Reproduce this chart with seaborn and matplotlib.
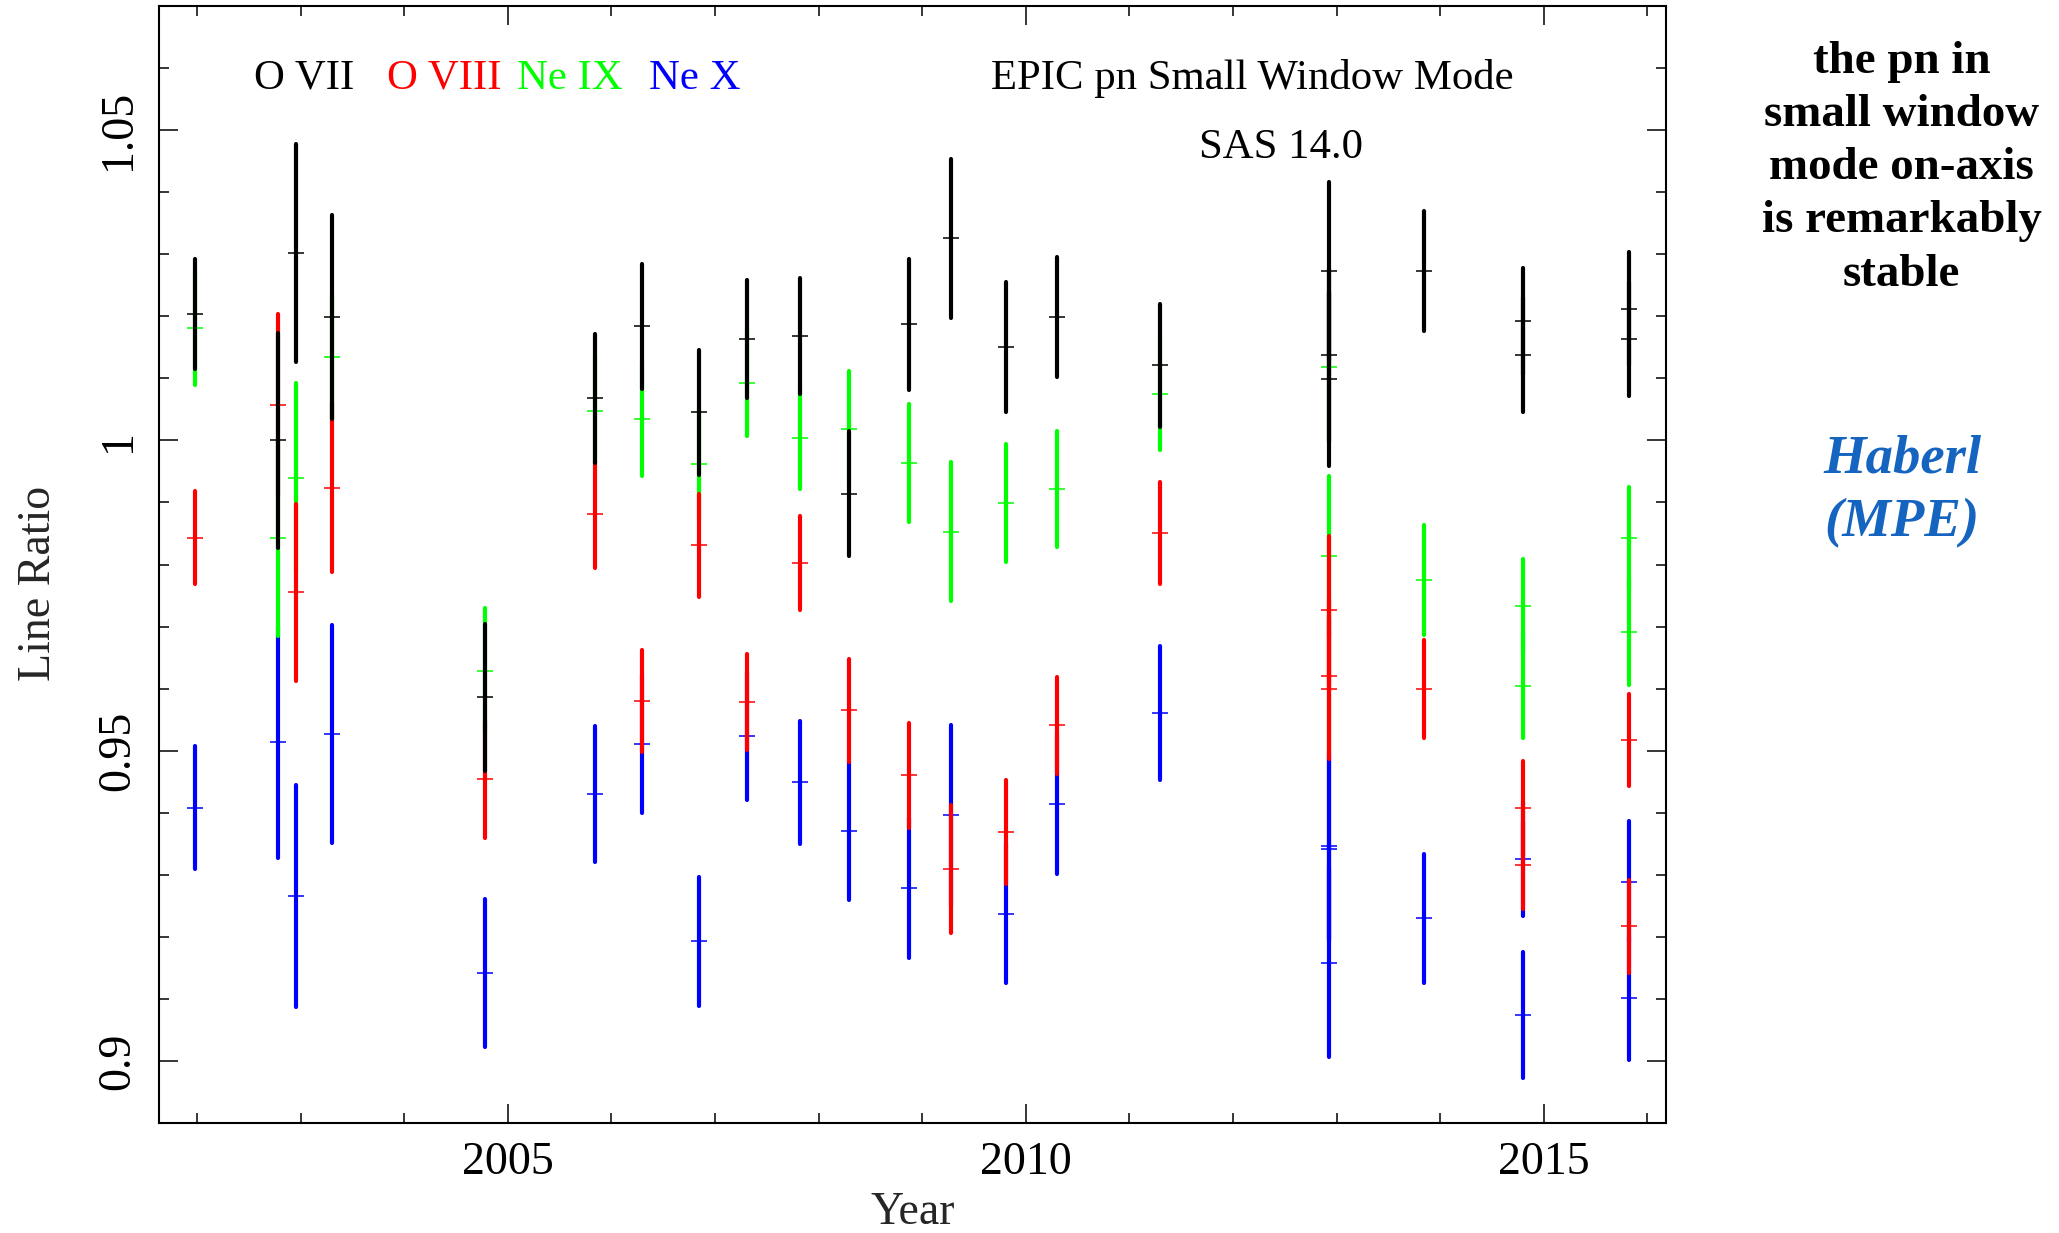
import matplotlib
matplotlib.use("Agg")
import matplotlib.pyplot as plt
import numpy as np
import pandas as pd
import seaborn as sns
from matplotlib.ticker import FixedLocator, MultipleLocator, FuncFormatter

# ---- line ratios (observed / model) per observation epoch ----
ovii_year = [2001.985, 2002.780, 2002.954, 2003.301, 2004.784, 2005.846, 2006.299,
             2006.847, 2007.313, 2007.819, 2008.297, 2008.871, 2009.279, 2009.807,
             2010.302, 2011.299, 2012.930, 2012.930, 2012.930, 2013.848,
             2014.800, 2014.800, 2015.823, 2015.823]
ovii_ratio = [1.0204, 1.0000, 1.0302, 1.0199, 0.9586, 1.0068, 1.0184,
              1.0045, 1.0163, 1.0168, 0.9914, 1.0187, 1.0326, 1.0150,
              1.0199, 1.0121, 1.0273, 1.0137, 1.0099, 1.0273,
              1.0192, 1.0138, 1.0212, 1.0164]
ovii_err = [0.0089, 0.0173, 0.0175, 0.0164, 0.0118, 0.0104, 0.0101,
            0.0100, 0.0095, 0.0093, 0.0101, 0.0105, 0.0128, 0.0105,
            0.0097, 0.0099, 0.0144, 0.0140, 0.0140, 0.0097,
            0.0086, 0.0093, 0.0091, 0.0092]

oviii_year = ovii_year
oviii_ratio = [0.9843, 1.0057, 0.9755, 0.9924, 0.9454, 0.9881, 0.9580,
               0.9831, 0.9578, 0.9802, 0.9565, 0.9460, 0.9309, 0.9369,
               0.9541, 0.9851, 0.9727, 0.9620, 0.9600, 0.9599,
               0.9407, 0.9315, 0.9517, 0.9217]
oviii_err = [0.0075, 0.0146, 0.0142, 0.0136, 0.0094, 0.0086, 0.0082,
             0.0083, 0.0077, 0.0076, 0.0083, 0.0085, 0.0103, 0.0084,
             0.0078, 0.0082, 0.0119, 0.0125, 0.0114, 0.0079,
             0.0077, 0.0070, 0.0074, 0.0075]

neix_year = [2001.985, 2002.780, 2002.954, 2003.301, 2004.784, 2005.846, 2006.299,
             2006.847, 2007.313, 2007.819, 2008.297, 2008.871, 2009.279, 2009.807,
             2010.302, 2011.299, 2012.930, 2012.930, 2013.848,
             2014.800, 2014.800, 2015.823, 2015.823]
neix_ratio = [1.0181, 0.9843, 0.9940, 1.0134, 0.9629, 1.0048, 1.0034,
              0.9962, 1.0093, 1.0004, 1.0019, 0.9964, 0.9853, 0.9899,
              0.9922, 1.0075, 1.0119, 0.9814, 0.9775,
              0.9733, 0.9605, 0.9843, 0.9692]
neix_err = [0.0092, 0.0158, 0.0152, 0.0100, 0.0101, 0.0090, 0.0092,
            0.0090, 0.0086, 0.0083, 0.0093, 0.0095, 0.0112, 0.0095,
            0.0093, 0.0090, 0.0120, 0.0129, 0.0088,
            0.0076, 0.0084, 0.0082, 0.0086]

nex_year = ovii_year
nex_ratio = [0.9408, 0.9514, 0.9266, 0.9527, 0.9142, 0.9430, 0.9511,
             0.9193, 0.9523, 0.9449, 0.9371, 0.9279, 0.9396, 0.9237,
             0.9414, 0.9561, 0.9346, 0.9342, 0.9158, 0.9230,
             0.9325, 0.9074, 0.9289, 0.9101]
nex_err = [0.0099, 0.0187, 0.0179, 0.0175, 0.0119, 0.0109, 0.0111,
           0.0104, 0.0103, 0.0099, 0.0112, 0.0113, 0.0146, 0.0112,
           0.0112, 0.0108, 0.0150, 0.0150, 0.0152, 0.0104,
           0.0092, 0.0101, 0.0097, 0.0099]

line_names = ["O VII", "O VIII", "Ne IX", "Ne X"]
line_colors = ["#000000", "#ff0000", "#00ff00", "#0000ff"]

x_major = [2005, 2010, 2015]
y_major = [0.9, 0.95, 1.0, 1.05]

# ---- style ----
sns.set_theme(style="ticks")
plt.rcParams.update({
    "axes.linewidth": 1.5,
    "axes.edgecolor": "black",
    "xtick.color": "black",
    "ytick.color": "black",
    "text.color": "black",
})
plt.rcParams["font.family"] = ["Liberation Serif", "DejaVu Serif"]

fig = plt.figure(figsize=(20.59, 12.33), dpi=100)
ax = fig.add_axes([0.07722, 0.08921, 0.73191, 0.90592])

series = [
    ("Ne X", nex_year, nex_ratio, nex_err, line_colors[3], 2),
    ("Ne IX", neix_year, neix_ratio, neix_err, line_colors[2], 3),
    ("O VIII", oviii_year, oviii_ratio, oviii_err, line_colors[1], 4),
    ("O VII", ovii_year, ovii_ratio, ovii_err, line_colors[0], 5),
]

for name, yr, ratio, err, col, z in series:
    df = pd.DataFrame({"year": yr, "ratio": ratio, "err": err})
    eb = ax.errorbar(df["year"], df["ratio"], yerr=df["err"], fmt="none",
                     ecolor=col, elinewidth=3.0, capsize=0, zorder=z)
    for lc in eb[2]:
        lc.set_capstyle("round")
    sns.scatterplot(data=df, x="year", y="ratio", marker="_", s=132,
                    color=col, linewidth=1.1, zorder=z + 0.1, ax=ax,
                    legend=False)

ax.set_xlim(2001.634, 2016.18)
ax.set_ylim(0.89, 1.07)

ax.xaxis.set_major_locator(FixedLocator(x_major))
ax.xaxis.set_minor_locator(MultipleLocator(1))
ax.yaxis.set_major_locator(FixedLocator(y_major))
ax.yaxis.set_minor_locator(MultipleLocator(0.01))
ax.xaxis.set_major_formatter(FuncFormatter(lambda v, p: f"{v:g}"))
ax.yaxis.set_major_formatter(FuncFormatter(lambda v, p: f"{v:g}"))

ax.tick_params(which="both", direction="in", top=True, right=True,
               width=1.1, colors="black")
ax.tick_params(which="major", length=13.7, labelsize=33)
ax.tick_params(which="minor", length=7.2)
ax.tick_params(axis="x", which="major", pad=13.0)
ax.tick_params(axis="y", which="major", pad=14.0, labelrotation=90)
for lab in ax.get_yticklabels():
    lab.set_verticalalignment("center")

for s in ax.spines.values():
    s.set_visible(True)
    s.set_linewidth(1.5)
    s.set_color("black")

ax.set_xlabel("Year", fontsize=33)
ax.set_ylabel("Line Ratio", fontsize=33)
ax.xaxis.set_label_coords(0.5, -0.0615)
ax.yaxis.set_label_coords(-0.0657, 0.4834)

# line names across the top of the panel
for name, col, xf in zip(line_names, line_colors, [0.0628, 0.1510, 0.2376, 0.3251]):
    ax.text(xf, 0.9257, name, color=col, fontsize=30.8, ha="left",
            va="baseline", transform=ax.transAxes)
ax.text(0.5519, 0.9254, "EPIC pn Small Window Mode", fontsize=30.8,
        ha="left", va="baseline", transform=ax.transAxes)
ax.text(0.6901, 0.8637, "SAS 14.0", fontsize=30.8,
        ha="left", va="baseline", transform=ax.transAxes)

# side note
note_lines = ["the pn in", "small window", "mode on-axis", "is remarkably", "stable"]
note_y = [0.9410, 0.8976, 0.8547, 0.8122, 0.7678]
for txt, yf in zip(note_lines, note_y):
    fig.text(0.9235, yf, txt, fontsize=33.8, fontweight="bold",
             ha="center", va="baseline")
for txt, yf in zip(["Haberl", "(MPE)"], [0.6167, 0.5654]):
    fig.text(0.9238, yf, txt, fontsize=39.4, fontweight="bold",
             fontstyle="italic", color="#1565c0", ha="center", va="baseline")

fig.savefig("out.png", dpi=100, facecolor="white")
